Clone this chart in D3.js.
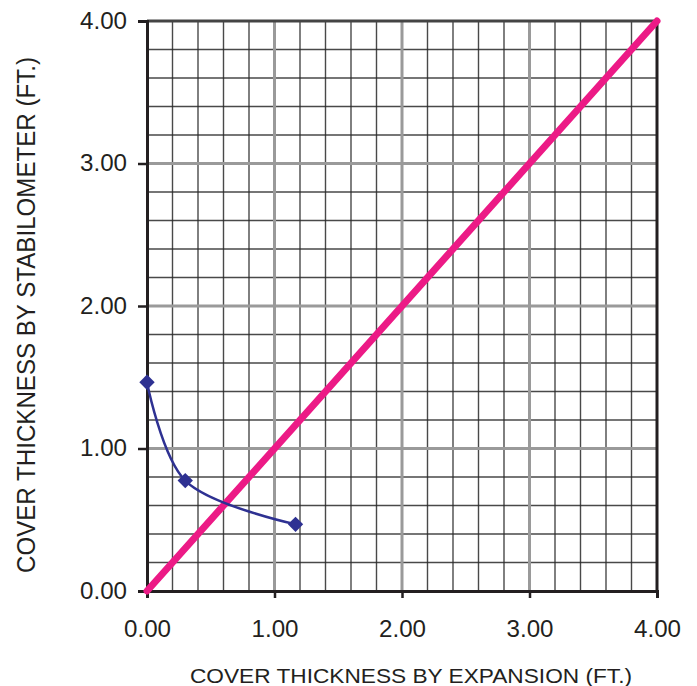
<!DOCTYPE html>
<html><head><meta charset="utf-8">
<script src="https://cdn.jsdelivr.net/npm/d3@7"></script>
<style>body{margin:0;background:#fff}svg{display:block}text{font-family:"Liberation Sans",Arial,sans-serif;fill:#231f20}</style>
</head><body>
<script>
const seriesX = [0.0, 0.3, 1.165];
const seriesY = [1.465, 0.775, 0.468];
const lineX = [0, 4];
const lineY = [0, 4];
const majorTicks = [0, 1, 2, 3, 4];
const tickLabels = ["0.00", "1.00", "2.00", "3.00", "4.00"];
const xTitle = "COVER THICKNESS BY EXPANSION (FT.)";
const yTitle = "COVER THICKNESS BY STABILOMETER (FT.)";

const W = 697, H = 686;
const m = {l:147, r:40, t:21, b:95};
const svg = d3.select("body").append("svg").attr("width", W).attr("height", H);
const x = d3.scaleLinear().domain([0,4]).range([m.l, W - m.r]);
const y = d3.scaleLinear().domain([0,4]).range([H - m.b, m.t]);

const minor = d3.range(0, 4.001, 0.2).filter(v => Math.abs(v - Math.round(v)) > 1e-6);
const g = svg.append("g");
// minor grid
g.selectAll(".vx").data(minor).join("line")
  .attr("x1", d => x(d)).attr("x2", d => x(d)).attr("y1", y(0)).attr("y2", y(4))
  .attr("stroke", "#2a2a2a").attr("stroke-width", 1.4).attr("opacity", 0.85);
g.selectAll(".hy").data(minor).join("line")
  .attr("y1", d => y(d)).attr("y2", d => y(d)).attr("x1", x(0)).attr("x2", x(4))
  .attr("stroke", "#2a2a2a").attr("stroke-width", 1.4).attr("opacity", 0.85);
// major grid
const inner = [1,2,3];
g.selectAll(".mx").data(inner).join("line")
  .attr("x1", d => x(d)).attr("x2", d => x(d)).attr("y1", y(0)).attr("y2", y(4))
  .attr("stroke", "#9a9a9a").attr("stroke-width", 3);
g.selectAll(".my").data(inner).join("line")
  .attr("y1", d => y(d)).attr("y2", d => y(d)).attr("x1", x(0)).attr("x2", x(4))
  .attr("stroke", "#9a9a9a").attr("stroke-width", 3);
// frame
g.append("line").attr("x1", x(0)).attr("x2", x(4)).attr("y1", y(4)).attr("y2", y(4)).attr("stroke", "#444").attr("stroke-width", 3);
g.append("line").attr("x1", x(4)).attr("x2", x(4)).attr("y1", y(0)).attr("y2", y(4)).attr("stroke", "#231f20").attr("stroke-width", 3);

// axes
const xAxis = d3.axisBottom(x).tickValues(majorTicks).tickFormat((d,i) => tickLabels[i]).tickSize(7).tickPadding(23);
const yAxis = d3.axisLeft(y).tickValues(majorTicks).tickFormat((d,i) => tickLabels[i]).tickSize(9).tickPadding(11);
const gx = svg.append("g").attr("transform", `translate(0,${y(0)})`).call(xAxis);
const gy = svg.append("g").attr("transform", `translate(${x(0)},0)`).call(yAxis);
[gx, gy].forEach(a => {
  a.select(".domain").attr("stroke", "#231f20").attr("stroke-width", 3);
  a.selectAll(".tick line").attr("stroke", "#231f20").attr("stroke-width", 2.5);
  a.selectAll(".tick text").attr("font-size", 23).attr("fill", "#231f20")
    .attr("font-family", '"Liberation Sans",Arial,sans-serif')
    .attr("textLength", 47).attr("lengthAdjust", "spacingAndGlyphs");
});

// diagonal
svg.append("line").attr("x1", x(lineX[0])).attr("y1", y(lineY[0])).attr("x2", x(lineX[1])).attr("y2", y(lineY[1]))
  .attr("stroke", "#ec1a86").attr("stroke-width", 7).attr("stroke-linecap", "round");

// series
const pts = seriesX.map((v,i) => [v, seriesY[i]]);
svg.append("path").datum(pts)
  .attr("d", d3.line().x(d => x(d[0])).y(d => y(d[1])).curve(d3.curveCatmullRom.alpha(0.5)))
  .attr("fill", "none").attr("stroke", "#2e3192").attr("stroke-width", 2.5);
svg.selectAll(".pt").data(pts).join("path")
  .attr("transform", d => `translate(${x(d[0])},${y(d[1])})`)
  .attr("d", d3.symbol(d3.symbolDiamond2, 150)())
  .attr("fill", "#2e3192");

// titles
svg.append("text").attr("x", 411).attr("y", 683).attr("text-anchor", "middle")
  .attr("font-size", 21).attr("textLength", 442).attr("lengthAdjust", "spacingAndGlyphs").text(xTitle);
svg.append("text").attr("transform", `translate(35,315) rotate(-90)`).attr("text-anchor", "middle")
  .attr("font-size", 26).attr("textLength", 516).attr("lengthAdjust", "spacingAndGlyphs").text(yTitle);
</script>
</body></html>
